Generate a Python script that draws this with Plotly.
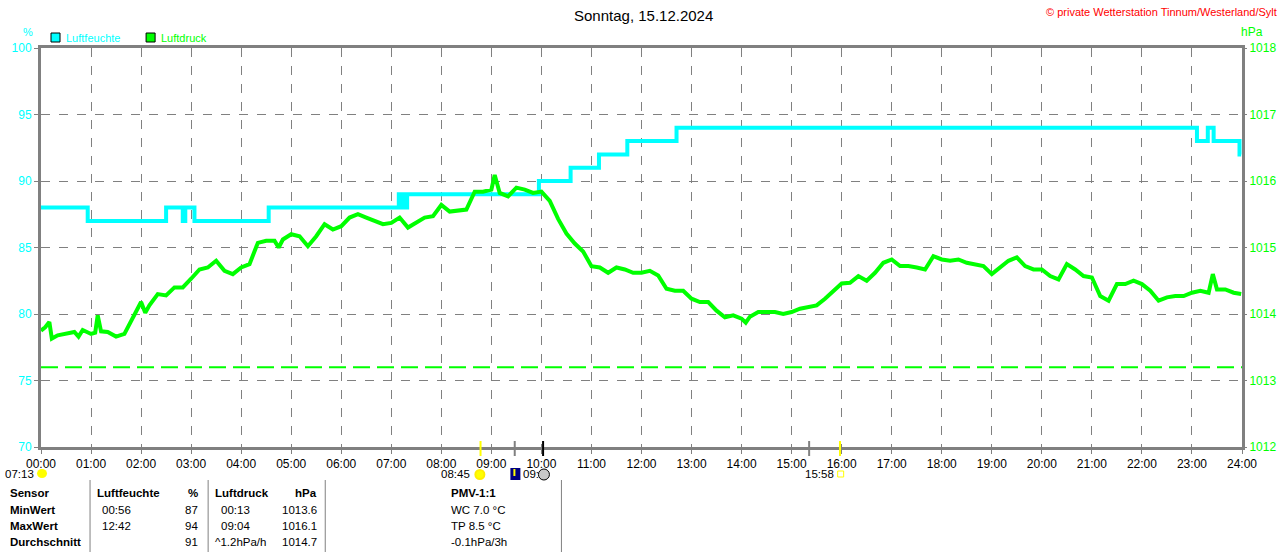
import plotly.graph_objects as go

# Luftfeuchte (%), step values
HUM_TIME = ["00:00", "00:56", "02:30", "02:50", "02:53", "03:04", "04:33",
            "07:09", "07:11", "07:13", "07:16", "07:19", "09:57", "10:35",
            "11:09", "11:43", "12:42", "23:06", "23:19", "23:26", "23:57", "23:59"]
HUM_VAL = [88, 87, 88, 87, 88, 87, 88,
           89, 88, 89, 88, 89, 90, 91,
           92, 93, 94, 93, 94, 93, 92, 92]

# Luftdruck (hPa)
PRESS_TIME = [
    "00:00", "00:05", "00:10", "00:13", "00:20", "00:30", "00:40", "00:45", "00:50",
    "01:00", "01:05", "01:08", "01:12", "01:20", "01:30", "01:40", "01:50",
    "02:00", "02:05", "02:10", "02:20", "02:30", "02:40", "02:50",
    "03:00", "03:10", "03:20", "03:30", "03:40", "03:50",
    "04:00", "04:10", "04:20", "04:30", "04:40", "04:45", "04:50",
    "05:00", "05:10", "05:20", "05:30", "05:40", "05:50",
    "06:00", "06:10", "06:20", "06:30", "06:40", "06:50",
    "07:00", "07:10", "07:20", "07:30", "07:40", "07:50",
    "08:00", "08:10", "08:20", "08:30", "08:40", "08:50",
    "09:00", "09:04", "09:10", "09:20", "09:30", "09:40", "09:50",
    "10:00", "10:10", "10:20", "10:30", "10:40", "10:50",
    "11:00", "11:10", "11:20", "11:30", "11:40", "11:50",
    "12:00", "12:10", "12:20", "12:30", "12:40", "12:50",
    "13:00", "13:10", "13:20", "13:30", "13:40", "13:50",
    "14:00", "14:05", "14:10", "14:20", "14:30", "14:40", "14:50",
    "15:00", "15:10", "15:20", "15:30", "15:40", "15:50",
    "16:00", "16:10", "16:20", "16:30", "16:40", "16:50",
    "17:00", "17:10", "17:20", "17:30", "17:40", "17:50",
    "18:00", "18:10", "18:20", "18:30", "18:40", "18:50",
    "19:00", "19:10", "19:20", "19:30", "19:40", "19:50",
    "20:00", "20:10", "20:20", "20:30", "20:40", "20:50",
    "21:00", "21:10", "21:20", "21:30", "21:40", "21:50",
    "22:00", "22:10", "22:20", "22:30", "22:40", "22:50",
    "23:00", "23:10", "23:20", "23:25", "23:30", "23:40", "23:50", "23:59",
]
PRESS_VAL = [
    1013.75, 1013.80, 1013.88, 1013.63, 1013.68, 1013.70, 1013.73, 1013.66, 1013.76,
    1013.70, 1013.72, 1013.98, 1013.74, 1013.73, 1013.66, 1013.70, 1013.93,
    1014.18, 1014.02, 1014.13, 1014.30, 1014.28, 1014.40, 1014.40,
    1014.53, 1014.67, 1014.70, 1014.80, 1014.65, 1014.60,
    1014.70, 1014.75, 1015.07, 1015.10, 1015.10, 1015.00, 1015.12,
    1015.20, 1015.17, 1015.02, 1015.17, 1015.35, 1015.27,
    1015.32, 1015.45, 1015.50, 1015.45, 1015.40, 1015.35,
    1015.37, 1015.45, 1015.30, 1015.37, 1015.45, 1015.47,
    1015.64, 1015.54, 1015.55, 1015.57, 1015.84, 1015.84,
    1015.87, 1016.09, 1015.82, 1015.77, 1015.90, 1015.87, 1015.82,
    1015.84, 1015.70, 1015.43, 1015.21, 1015.06, 1014.94,
    1014.72, 1014.70, 1014.62, 1014.70, 1014.67, 1014.62,
    1014.62, 1014.65, 1014.58, 1014.38, 1014.35, 1014.35,
    1014.23, 1014.18, 1014.18, 1014.05, 1013.95, 1013.98,
    1013.93, 1013.87, 1013.96, 1014.03, 1014.03, 1014.03, 1014.00,
    1014.03, 1014.08, 1014.10, 1014.13, 1014.23, 1014.35,
    1014.46, 1014.47, 1014.57, 1014.50, 1014.62, 1014.77,
    1014.82, 1014.72, 1014.72, 1014.70, 1014.67, 1014.87,
    1014.82, 1014.80, 1014.82, 1014.77, 1014.75, 1014.72,
    1014.60, 1014.70, 1014.80, 1014.85, 1014.72, 1014.67,
    1014.67, 1014.57, 1014.52, 1014.75, 1014.67, 1014.57,
    1014.55, 1014.27, 1014.20, 1014.45, 1014.45, 1014.50,
    1014.45, 1014.35, 1014.20, 1014.25, 1014.27, 1014.27,
    1014.32, 1014.35, 1014.32, 1014.60, 1014.37, 1014.37, 1014.32, 1014.30,
]

REF_PRESS = 1013.2  # green dashed reference line

HOUR_LABELS = ["%02d:00" % h for h in range(25)]
HUM_TICKS = [70, 75, 80, 85, 90, 95, 100]
PRESS_TICKS = [1012, 1013, 1014, 1015, 1016, 1017, 1018]

# sun markers under the x axis
SUN_LABELS = ["07:13", "08:45", "15:58"]

TABLE_ROWS = ["Sensor", "MinWert", "MaxWert", "Durchschnitt"]
HUM_TIMES = ["", "00:56", "12:42", ""]
HUM_STATS = ["%", "87", "94", "91"]
PRESS_TIMES = ["", "00:13", "09:04", "^1.2hPa/h"]
PRESS_STATS = ["hPa", "1013.6", "1016.1", "1014.7"]
PMV_LINES = ["PMV-1:1", "WC 7.0 °C", "TP 8.5 °C", "-0.1hPa/3h"]

CYAN = "#00ffff"
GREEN = "#00ff00"
GREY = "#808080"
FONT = "Liberation Sans, Arial, sans-serif"


def to_hours(t):
    h, m = t.split(":")
    return int(h) + int(m) / 60


# pixel -> paper coordinates (plot area is x 40..1240, y 48..447)
def px(x):
    return (x - 40) / 1200


def py(y):
    return (447 - y) / 399


fig = go.Figure()
fig.add_trace(go.Scatter(
    x=[to_hours(t) for t in HUM_TIME], y=HUM_VAL, mode="lines",
    line=dict(color=CYAN, width=4, shape="hv"), name="Luftfeuchte", yaxis="y"))
fig.add_trace(go.Scatter(
    x=[to_hours(t) for t in PRESS_TIME], y=PRESS_VAL, mode="lines",
    line=dict(color=GREEN, width=4), name="Luftdruck", yaxis="y2"))
fig.add_trace(go.Scatter(
    x=[0, 24], y=[REF_PRESS, REF_PRESS], mode="lines",
    line=dict(color=GREEN, width=2, dash="17px,7px"), yaxis="y2", showlegend=False))

shapes = []
annotations = []


def label(x, y, text, anchor="left", size=12, color="black"):
    annotations.append(dict(x=px(x), y=py(y), xref="paper", yref="paper", xanchor=anchor,
                            yanchor="middle", text=text, showarrow=False,
                            font=dict(size=size, color=color, family=FONT)))


# title and copyright
label(642, 15, "Sonntag, 15.12.2024", anchor="center", size=15)
label(1277, 12, "© private Wetterstation Tinnum/Westerland/Sylt", anchor="right", size=11, color="red")
# axis units
label(27, 32, "%", anchor="center", size=11, color=CYAN)
label(1250, 32, "hPa", anchor="center", size=12, color=GREEN)

# legend boxes
for x0, col, name in [(50, CYAN, "Luftfeuchte"), (145, GREEN, "Luftdruck")]:
    shapes.append(dict(type="rect", xref="paper", yref="paper", x0=px(x0), x1=px(x0 + 9),
                       y0=py(42), y1=py(33), fillcolor=col, line=dict(color="black", width=1)))
    label(x0 + 13, 38, name, size=11, color=col)

# marker ticks on the x axis
for t, col in [("08:47", "#ffff00"), ("09:28", GREY), ("10:02", "black"),
               ("15:21", GREY), ("15:58", "#ffff00")]:
    shapes.append(dict(type="line", xref="x", yref="paper", x0=to_hours(t), x1=to_hours(t),
                       y0=py(456), y1=py(441), line=dict(color=col, width=2)))

# sun labels (right edges in pixels)
for right, text in zip([35, 471, 834], SUN_LABELS):
    label(right, 474, text, anchor="right", size=11.5)
# sunrise icon
shapes.append(dict(type="circle", xref="paper", yref="paper", x0=px(36), x1=px(46),
                   y0=py(478), y1=py(469), fillcolor="#ffff00", line=dict(width=0)))
# sun icon
shapes.append(dict(type="circle", xref="paper", yref="paper", x0=px(474), x1=px(483),
                   y0=py(479), y1=py(470), fillcolor="#ffff00", line=dict(color="#ffee00", width=2)))
# sunset icon
shapes.append(dict(type="rect", xref="paper", yref="paper", x0=px(836), x1=px(842),
                   y0=py(477), y1=py(471), line=dict(color="#ffff00", width=1)))
# other icons near 09:30
shapes.append(dict(type="rect", xref="paper", yref="paper", x0=px(509), x1=px(519),
                   y0=py(480), y1=py(468), fillcolor="#000080", line=dict(width=0)))
shapes.append(dict(type="line", xref="paper", yref="paper", x0=px(513), x1=px(513),
                   y0=py(476), y1=py(469), line=dict(color="#ffff00", width=2)))
label(520, 474, "09:", size=11.5)
shapes.append(dict(type="circle", xref="paper", yref="paper", x0=px(537), x1=px(548),
                   y0=py(480), y1=py(469), fillcolor="#c8c8c8", line=dict(color="black", width=1)))

# statistics table
for xs in [89, 207, 324, 560]:
    shapes.append(dict(type="line", xref="paper", yref="paper", x0=px(xs), x1=px(xs),
                       y0=py(552), y1=py(480), line=dict(color=GREY, width=1)))

ROW_Y = [493, 510, 526, 542]


def cell(x, y, text, anchor="left", bold=False):
    label(x, y, "<b>%s</b>" % text if bold else text, anchor=anchor, size=11.5)


for i, y in enumerate(ROW_Y):
    head = i == 0
    cell(7, y, TABLE_ROWS[i], bold=True)
    cell(99 if not head else 94, y, "Luftfeuchte" if head else HUM_TIMES[i], bold=head)
    cell(199, y, HUM_STATS[i], anchor="right", bold=head)
    cell(218 if i in (1, 2) else 212, y, "Luftdruck" if head else PRESS_TIMES[i], bold=head)
    cell(318, y, PRESS_STATS[i], anchor="right", bold=head)
    cell(448, y, PMV_LINES[i], bold=head)

axis_common = dict(showline=True, linecolor=GREY, linewidth=3, mirror=True,
                   ticks="outside", ticklen=4, tickcolor=GREY, zeroline=False)

# the page gets squeezed to the window width, so lay out 8px wider
fig.update_layout(
    width=1288, height=552, autosize=False,
    margin=dict(l=40, r=40, t=48, b=105),
    paper_bgcolor="white", plot_bgcolor="white",
    showlegend=False,
    font=dict(family=FONT, size=12, color="black"),
    xaxis=dict(range=[0, 24], tickvals=list(range(25)), ticktext=HOUR_LABELS,
               showgrid=True, gridcolor=GREY, gridwidth=1, griddash="dash",
               tickfont=dict(size=12, color="black"), **axis_common),
    yaxis=dict(range=[70, 100], tickvals=HUM_TICKS, showgrid=True, gridcolor=GREY,
               gridwidth=1, griddash="dash", tickfont=dict(size=12, color=CYAN), **axis_common),
    yaxis2=dict(range=[1012, 1018], tickvals=PRESS_TICKS, overlaying="y", side="right",
                showgrid=False, showline=False, ticks="outside", ticklen=4, tickcolor=GREY,
                zeroline=False, tickfont=dict(size=12, color=GREEN)),
    shapes=shapes,
    annotations=annotations,
)

# drop the browser's default body margin and scrollbars so the figure fills the window
fig.write_html("out.html", config=dict(displayModeBar=False),
               post_script="document.body.style.margin='0';document.body.style.overflow='hidden';")
